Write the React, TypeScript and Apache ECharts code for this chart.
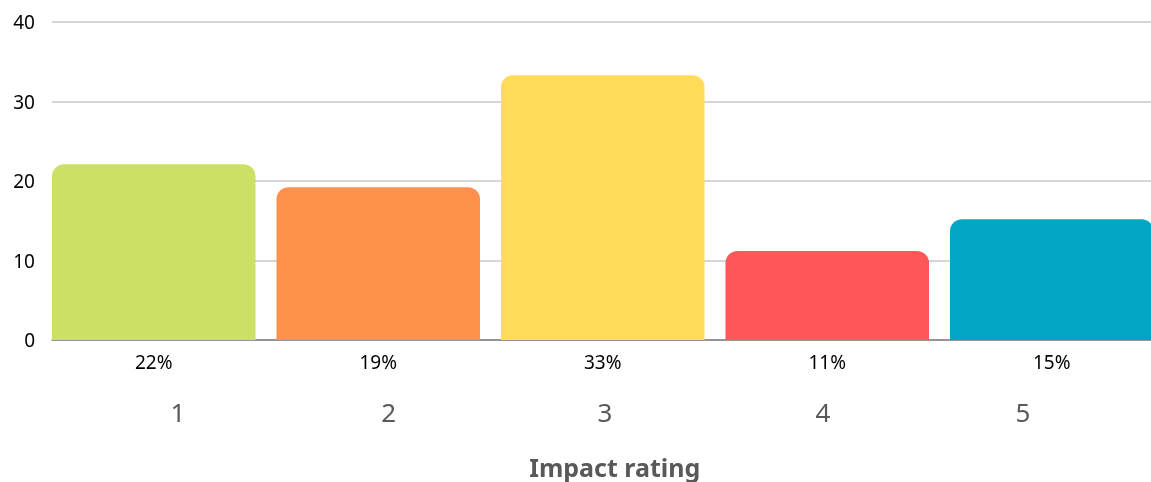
import React, { useEffect, useRef } from "react";
import * as echarts from "echarts";

const categories = ["1", "2", "3", "4", "5"];
const values = [22.1, 19.2, 33.3, 11.2, 15.2];
const percentLabels = ["22%", "19%", "33%", "11%", "15%"];
const colors = ["#CBE065", "#FF914D", "#FFDB58", "#FF5757", "#03A6C2"];
const yTicks = { min: 0, max: 40, interval: 10 };
const labelShifts = [27.5, 0, -16.5, -29.5, -78.5];
const axisTitle = "Impact rating";

const FONT = "'Noto Sans', 'DejaVu Sans', sans-serif";

export default function App() {
  const ref = useRef<HTMLDivElement>(null);
  useEffect(() => {
    if (!ref.current) return;
    const chart = echarts.init(ref.current, undefined, { renderer: "svg" });
    const rich: Record<string, any> = {};
    labelShifts.forEach((s, i) => {
      rich["a" + i] = {
        fontSize: 26,
        color: "#595959",
        fontFamily: FONT,
        padding: s >= 0 ? [0, 0, 0, s] : [0, -s, 0, 0],
      };
    });
    chart.setOption({
      animation: false,
      textStyle: { fontFamily: FONT },
      grid: {
        left: 52,
        top: 22,
        width: 1122.5,
        height: 318,
        containLabel: false,
        outerBoundsMode: "none",
      },
      xAxis: {
        type: "category",
        data: categories,
        boundaryGap: true,
        axisLine: { lineStyle: { color: "#7f7f7f", width: 1.5 } },
        axisTick: { show: false },
        axisLabel: {
          margin: 59,
          formatter: (v: string, i: number) => `{a${i}|${v}}`,
          rich,
        },
        name: axisTitle,
        nameLocation: "middle",
        nameGap: 114,
        nameTextStyle: {
          fontSize: 25,
          fontWeight: "bold",
          color: "#595959",
          fontFamily: FONT,
          verticalAlign: "top",
          padding: [0, 0, 0, 3],
        },
      },
      yAxis: {
        type: "value",
        min: yTicks.min,
        max: yTicks.max,
        interval: yTicks.interval,
        axisLine: { show: false },
        axisTick: { show: false },
        splitLine: { lineStyle: { color: "#C8C8C8", width: 1.5 } },
        axisLabel: { fontSize: 19, color: "#000", margin: 17, fontFamily: FONT },
      },
      series: [
        {
          type: "bar",
          barWidth: 203.5,
          barGap: 0,
          data: values.map((v, i) => ({
            value: v,
            itemStyle: { color: colors[i], borderRadius: [12, 12, 0, 0] },
          })),
          label: {
            show: true,
            position: "bottom",
            distance: 12,
            formatter: (p: any) => percentLabels[p.dataIndex],
            fontSize: 19,
            color: "#000",
            fontFamily: FONT,
          },
          z: 3,
        },
        {
          type: "bar",
          barWidth: 21,
          barGap: 0,
          data: values.map(() => null),
          silent: true,
        },
      ],
    });
    return () => chart.dispose();
  }, []);
  return (
    <div
      ref={ref}
      style={{ position: "fixed", left: 0, top: 0, width: 1151, height: 482 }}
    />
  );
}
